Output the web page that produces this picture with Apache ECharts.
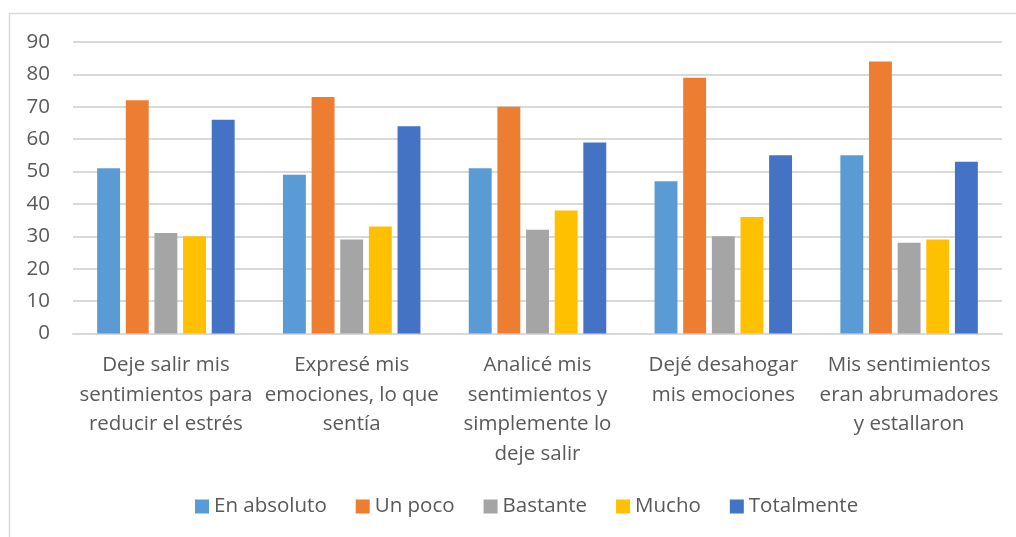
<!DOCTYPE html>
<html>
<head>
<meta charset="utf-8">
<script src="https://cdn.jsdelivr.net/npm/echarts@6/dist/echarts.min.js"></script>
<style>
  html, body { margin: 0; padding: 0; background: #ffffff; }
  #chart { width: 1016px; height: 537px; }
</style>
</head>
<body>
<div id="chart"></div>
<script>
// Response categories (x axis) – line breaks follow the wrapped labels
const categories = [
  'Deje salir mis\nsentimientos para\nreducir el estrés',
  'Expresé mis\nemociones, lo que\nsentía',
  'Analicé mis\nsentimientos y\nsimplemente lo\ndeje salir',
  'Dejé desahogar\nmis emociones',
  'Mis sentimientos\neran abrumadores\ny estallaron'
];

// Series names and values
const seriesNames = ['En absoluto', 'Un poco', 'Bastante', 'Mucho', 'Totalmente'];
const enAbsoluto = [51, 49, 51, 47, 55];
const unPoco     = [72, 73, 70, 79, 84];
const bastante   = [31, 29, 32, 30, 28];
const mucho      = [30, 33, 38, 36, 29];
const totalmente = [66, 64, 59, 55, 53];
const seriesValues = [enAbsoluto, unPoco, bastante, mucho, totalmente];
const seriesColors = ['#5B9BD5', '#ED7D31', '#A5A5A5', '#FFC000', '#4472C4'];

// Y axis ticks
const yMin = 0, yMax = 90, yStep = 10;

const FONT = '"Open Sans", sans-serif';
const TEXT = '#595959';
const FS = 20.5;

const chart = echarts.init(document.getElementById('chart'), null, { renderer: 'canvas' });

chart.setOption({
  animation: false,
  backgroundColor: '#ffffff',
  textStyle: { fontFamily: FONT },
  graphic: [{
    type: 'rect',
    shape: { x: 9.5, y: 13.5, width: 1012, height: 530 },
    style: { fill: 'none', stroke: '#D9D9D9', lineWidth: 1.5 },
    silent: true,
    z: -1
  }],
  grid: { left: 73, right: 14, top: 42, bottom: 203.5, containLabel: false },
  legend: {
    data: seriesNames,
    left: 190,
    top: 491,
    icon: 'rect',
    itemWidth: 14,
    itemHeight: 14,
    itemGap: 29,
    textStyle: { color: TEXT, fontSize: FS, fontFamily: FONT }
  },
  xAxis: {
    type: 'category',
    data: categories,
    axisLine: { show: true, lineStyle: { color: '#D9D9D9', width: 2 } },
    axisTick: { show: false },
    axisLabel: {
      color: TEXT,
      fontSize: FS,
      fontFamily: FONT,
      lineHeight: 29.5,
      margin: 17,
      interval: 0,
      align: 'center',
      verticalAlign: 'top'
    }
  },
  yAxis: {
    type: 'value',
    min: yMin,
    max: yMax,
    interval: yStep,
    axisLine: { show: false },
    axisTick: { show: false },
    axisLabel: { color: TEXT, fontSize: FS, fontFamily: FONT, margin: 23 },
    splitLine: { lineStyle: { color: '#D9D9D9', width: 2 } }
  },
  series: seriesNames.map((name, i) => ({
    name: name,
    type: 'bar',
    data: seriesValues[i],
    itemStyle: { color: seriesColors[i] },
    barGap: '25%',
    barCategoryGap: '26%'
  }))
});
</script>
</body>
</html>
